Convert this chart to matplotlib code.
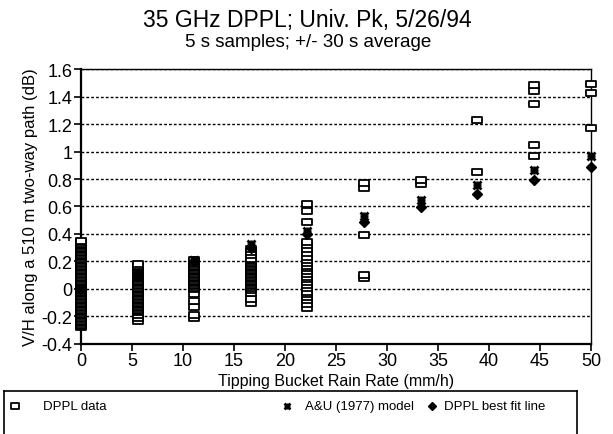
import numpy as np
import matplotlib.pyplot as plt
from matplotlib.path import Path

plt.rcParams['font.family'] = ['Liberation Sans', 'DejaVu Sans']

# rain rate columns (mm/h)
rates = [0, 5.55, 11.1, 16.65, 22.2, 27.75, 33.3, 38.85, 44.4, 50]

# DPPL data (V/H, dB) read per column
dppl_0 = [-0.28, -0.27, -0.26, -0.25, -0.24, -0.23, -0.22, -0.21, -0.20, -0.19,
          -0.18, -0.17, -0.16, -0.15, -0.14, -0.13, -0.12, -0.11, -0.10, -0.09,
          -0.08, -0.07, -0.06, -0.05, -0.04, -0.03, -0.02, -0.01, 0.0, 0.01,
          0.02, 0.03, 0.04, 0.05, 0.06, 0.07, 0.08, 0.09, 0.10, 0.11, 0.12,
          0.13, 0.14, 0.15, 0.16, 0.17, 0.18, 0.19, 0.20, 0.21, 0.22, 0.23,
          0.24, 0.25, 0.26, 0.27, 0.28, 0.29, 0.30, 0.31, 0.32, 0.33, 0.34, 0.35]
dppl_5 = [-0.23, -0.21, -0.19, -0.17, -0.16, -0.15, -0.14, -0.13, -0.12, -0.11,
          -0.10, -0.09, -0.08, -0.07, -0.06, -0.05, -0.04, -0.03, -0.02, -0.01,
          0.0, 0.01, 0.02, 0.03, 0.04, 0.05, 0.06, 0.07, 0.08, 0.09, 0.10, 0.11,
          0.12, 0.13, 0.14, 0.15, 0.16, 0.17, 0.18]
dppl_11 = [-0.21, -0.19, -0.13, -0.09, -0.04, 0.0, 0.01, 0.02, 0.03, 0.04,
           0.05, 0.06, 0.07, 0.08, 0.09, 0.10, 0.11, 0.12, 0.13, 0.14, 0.15,
           0.16, 0.17, 0.18, 0.19, 0.20, 0.21]
dppl_16 = [-0.10, -0.07, -0.03, -0.01, 0.01, 0.02, 0.03, 0.04, 0.05, 0.06,
           0.07, 0.08, 0.09, 0.10, 0.11, 0.12, 0.13, 0.14, 0.15, 0.16, 0.17,
           0.18, 0.19, 0.20, 0.21, 0.22, 0.25, 0.27, 0.29]
dppl_22 = [-0.14, -0.11, -0.08, -0.06, -0.04, -0.02, 0.01, 0.03, 0.05, 0.07,
           0.09, 0.11, 0.13, 0.15, 0.17, 0.19, 0.21, 0.23, 0.26, 0.29, 0.32,
           0.34, 0.49, 0.57, 0.62]
dppl_27 = [0.08, 0.10, 0.39, 0.735, 0.77]
dppl_33 = [0.765, 0.79]
dppl_38 = [0.85, 1.23]
dppl_44 = [0.97, 1.05, 1.345, 1.44, 1.485]
dppl_50 = [1.17, 1.425, 1.49]
dppl_cols = [dppl_0, dppl_5, dppl_11, dppl_16, dppl_22,
             dppl_27, dppl_33, dppl_38, dppl_44, dppl_50]

# A&U (1977) model and DPPL best fit values at each rate
au_model = [0.0, 0.10, 0.21, 0.325, 0.42, 0.53, 0.65, 0.755, 0.865, 0.97]
best_fit = [0.0, 0.10, 0.20, 0.30, 0.40, 0.49, 0.595, 0.69, 0.79, 0.89]

# slightly flat box marker, like the scanned squares
box = Path([(-1, -0.72), (1, -0.72), (1, 0.72), (-1, 0.72), (-1, -0.72)],
           [Path.MOVETO, Path.LINETO, Path.LINETO, Path.LINETO, Path.CLOSEPOLY])

fig = plt.figure(figsize=(6.13, 4.35), dpi=100)
ax = fig.add_axes([0.132, 0.207, 0.832, 0.632])

for r, vals in zip(rates, dppl_cols):
    ax.plot([r] * len(vals), vals, marker=box, ms=6.5, mfc='white', mec='black',
            mew=1.3, ls='none', zorder=3, clip_on=False)
ax.plot(rates, au_model, 'x', ms=6, mec='black', mew=2.0, ls='none', zorder=4,
        clip_on=False)
ax.plot(rates, au_model, '+', ms=6, mec='black', mew=2.0, ls='none', zorder=4,
        clip_on=False)
ax.plot(rates, best_fit, 'D', ms=5, mfc='black', mec='black', ls='none',
        zorder=4, clip_on=False)

ax.set_xlim(0, 50)
ax.set_ylim(-0.4, 1.6)
ax.set_xticks(np.arange(0, 51, 5))
ax.set_yticks(np.arange(-0.4, 1.61, 0.2))
ax.set_yticklabels(['-0.4', '-0.2', '0', '0.2', '0.4', '0.6', '0.8', '1',
                    '1.2', '1.4', '1.6'])
ax.tick_params(direction='out', length=5, width=1.2, labelsize=13, pad=1)
ax.yaxis.grid(True, ls=(0, (2, 1.5)), color='black', lw=1.0)
for s in ['left', 'bottom']:
    ax.spines[s].set_linewidth(1.6)
for s in ['top', 'right']:
    ax.spines[s].set_linewidth(1.0)

ax.set_xlabel('Tipping Bucket Rain Rate (mm/h)', fontsize=11.5, labelpad=3)
ax.set_ylabel('V/H along a 510 m two-way path (dB)', fontsize=12, labelpad=3)

fig.text(0.502, 0.953, '35 GHz DPPL; Univ. Pk, 5/26/94', ha='center',
         va='center', fontsize=16.5)
fig.text(0.502, 0.902, '5 s samples; +/- 30 s average', ha='center',
         va='center', fontsize=13.5)

# legend box below the axes
lax = fig.add_axes([0.006, -0.02, 0.935, 0.12])
lax.set_xlim(0, 1)
lax.set_ylim(0, 1)
lax.set_xticks([])
lax.set_yticks([])
for s in lax.spines.values():
    s.set_linewidth(1.2)
lfont = dict(fontsize=9.5, va='center')
lax.plot([0.02], [0.70], marker=box, ms=5.5, mfc='white', mec='black', mew=1.3)
lax.text(0.069, 0.70, 'DPPL data', **lfont)
lax.plot([0.494], [0.70], 'x', ms=5, mec='black', mew=1.8)
lax.plot([0.494], [0.70], '+', ms=5, mec='black', mew=1.8)
lax.text(0.526, 0.70, 'A&U (1977) model', **lfont)
lax.plot([0.747], [0.70], 'D', ms=4.5, mfc='black', mec='black')
lax.text(0.768, 0.70, 'DPPL best fit line', **lfont)

fig.savefig('out.png', dpi=100)
